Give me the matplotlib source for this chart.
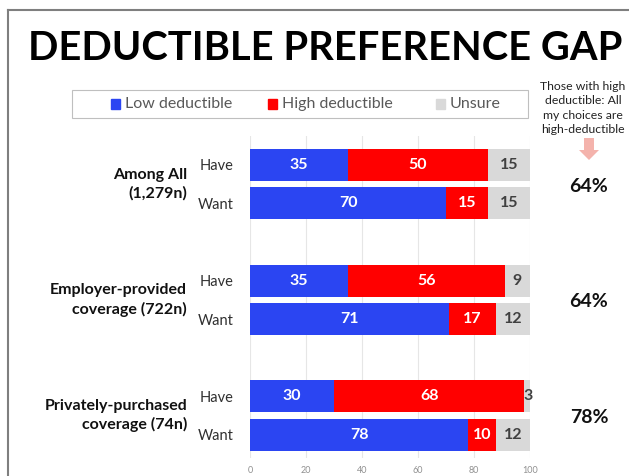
import matplotlib
matplotlib.use("Agg")
import matplotlib.pyplot as plt
import matplotlib.transforms as mtransforms
from matplotlib.patches import Rectangle, FancyArrow
from matplotlib.lines import Line2D

plt.rcParams['font.family'] = ['Lato', 'DejaVu Sans']

# survey data (percent)
groups = ['Among All\n(1,279n)', 'Employer-provided\ncoverage (722n)', 'Privately-purchased\ncoverage (74n)']
rows = ['Have', 'Want']
low = [35, 70, 35, 71, 30, 78]
high = [50, 15, 56, 17, 68, 10]
unsure = [15, 15, 9, 12, 3, 12]
all_high = ['64%', '64%', '78%']

c_low = '#2B45F2'
c_high = '#FF0000'
c_unsure = '#D9D9D9'

fig = plt.figure(figsize=(6.29, 4.76), dpi=100)
ax = fig.add_axes([250 / 629, 1 - 458 / 476, 280 / 629, (458 - 136) / 476])

ypos = [3 * (i // 2) + (i % 2) for i in range(len(low))]
h = 0.83
left_high = [a for a in low]
left_uns = [a + b for a, b in zip(low, high)]
ax.barh(ypos, low, height=h, color=c_low, zorder=3)
ax.barh(ypos, high, left=left_high, height=h, color=c_high, zorder=3)
ax.barh(ypos, unsure, left=left_uns, height=h, color=c_unsure, zorder=3)

lbl = dict(ha='center', va='center', fontsize=11.5, fontweight='bold', zorder=4)
for y, a, b, c in zip(ypos, low, high, unsure):
    ax.text(a / 2, y, str(a), color='white', **lbl)
    ax.text(a + b / 2, y, str(b), color='white', **lbl)
    ax.text(a + b + c / 2, y, str(c), color='#404040', **lbl)

ax.set_xlim(0, 100)
ax.set_ylim(7.6, -0.75)
ax.set_xticks(range(0, 101, 20))
ax.tick_params(axis='x', length=0, labelsize=6.5, labelcolor='#909090', pad=6)
ax.set_yticks(ypos)
ax.set_yticklabels(rows * 3)
ax.tick_params(axis='y', length=0, labelsize=10.5, labelcolor='#303030', pad=12)
ax.grid(axis='x', color='#E6E6E6', lw=0.8, zorder=0)
for s in ax.spines.values():
    s.set_visible(False)

# group labels left of the bars, share of all-high choices on the right
tr = mtransforms.blended_transform_factory(fig.transFigure, ax.transData)
for g, name in enumerate(groups):
    ax.text(187 / 629, 3 * g + 0.5, name, transform=tr, ha='right', va='center',
            fontsize=11.5, fontweight='bold', color='#111111', linespacing=1.35)
    ax.text(589 / 629, 3 * g + 0.55, all_high[g], transform=tr, ha='center', va='center',
            fontsize=14, fontweight='bold', color='#111111')

# title, sized to span 28..622 px
title = fig.text(28 / 629, 1 - 49 / 476, 'DEDUCTIBLE PREFERENCE GAP', ha='left', va='center',
                 fontsize=30, fontweight='bold', color='black')
r = fig.canvas.get_renderer()
w = title.get_window_extent(r).width
title.set_fontsize(30 * 594 / w)

# legend box
fig.patches.append(Rectangle((72 / 629, 1 - 118 / 476), (528 - 72) / 629, 28 / 476,
                             transform=fig.transFigure, facecolor='white',
                             edgecolor='#BFBFBF', lw=0.8))
for x, col, txt in [(111, c_low, 'Low deductible'), (268, c_high, 'High deductible'),
                    (436, c_unsure, 'Unsure')]:
    fig.patches.append(Rectangle((x / 629, 1 - 108.5 / 476), 9 / 629, 9 / 476,
                                 transform=fig.transFigure, color=col))
    fig.text((x + 14) / 629, 1 - 104 / 476, txt, ha='left', va='center',
             fontsize=11.5, color='#595959')

# note on the right
fig.text(583 / 629, 1 - 108 / 476,
         'Those with high\ndeductible: All\nmy choices are\nhigh-deductible',
         ha='center', va='center', fontsize=8.8, color='#222222', linespacing=1.35)
fig.patches.append(FancyArrow(589 / 629, 1 - 138 / 476, 0, -22 / 476, width=10 / 629,
                              head_width=20 / 629, head_length=10 / 476,
                              length_includes_head=True, transform=fig.transFigure,
                              color='#F4B3AC', lw=0))

# frame lines
fig.lines.append(Line2D([8 / 629, 8 / 629], [0, 1 - 10 / 476], transform=fig.transFigure,
                        color='#7F7F7F', lw=1.5))
fig.lines.append(Line2D([8 / 629, 1], [1 - 10 / 476, 1 - 10 / 476], transform=fig.transFigure,
                        color='#7F7F7F', lw=1.5))

fig.savefig('out.png', dpi=100)
